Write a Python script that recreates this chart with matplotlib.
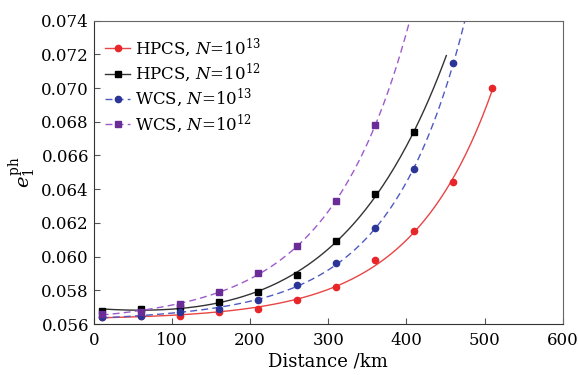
import numpy as np
import matplotlib
matplotlib.use("Agg")
import matplotlib.pyplot as plt

plt.rcParams['font.family'] = ['DejaVu Serif']
plt.rcParams['mathtext.fontset'] = 'dejavuserif'

# Data
dist = [10, 60, 110, 160, 210, 260, 310, 360, 410, 460, 510]
hpcs_13 = [0.0564, 0.0565, 0.0565, 0.0567, 0.0569, 0.0574, 0.0582, 0.0598, 0.0615, 0.0644, 0.0700]
hpcs_12 = [0.0568, 0.0569, 0.0570, 0.0573, 0.0579, 0.0589, 0.0609, 0.0637, 0.0674]
wcs_13 = [0.0564, 0.0565, 0.0567, 0.0569, 0.0574, 0.0583, 0.0596, 0.0617, 0.0652, 0.0715]
wcs_12 = [0.0566, 0.0567, 0.0572, 0.0579, 0.0590, 0.0606, 0.0633, 0.0678]

# fitted-curve end distances
curve_end = {'hpcs_13': 510, 'hpcs_12': 451, 'wcs_13': 490, 'wcs_12': 420}

labels = [r'HPCS, $N$=10$^{13}$', r'HPCS, $N$=10$^{12}$',
          r'WCS, $N$=10$^{13}$', r'WCS, $N$=10$^{12}$']

series = [
    ('hpcs_13', hpcs_13, '#e8262a', '#e84545', '-', 'o'),
    ('hpcs_12', hpcs_12, '#000000', '#333333', '-', 's'),
    ('wcs_13', wcs_13, '#2b3597', '#4f5ac4', (0, (5, 3)), 'o'),
    ('wcs_12', wcs_12, '#6a2c96', '#9d5ccc', (0, (5, 3)), 's'),
]


def exp_fit(x, y):
    best = None
    for c in np.linspace(0.002, 0.03, 2000):
        A = np.column_stack([np.ones_like(x), np.exp(c * x), x])
        coef, *_ = np.linalg.lstsq(A, y, rcond=None)
        r = np.sum((A @ coef - y) ** 2)
        if best is None or r < best[0]:
            best = (r, c, coef)
    _, c, coef = best
    return lambda t: coef[0] + coef[1] * np.exp(c * t) + coef[2] * t


fig = plt.figure(figsize=(5.79, 3.75), dpi=100)
ax = fig.add_axes([0.162, 0.136, 0.810, 0.809])

for (key, vals, mc, lc, ls, mk), lab in zip(series, labels):
    x = np.array(dist[:len(vals)], dtype=float)
    y = np.array(vals)
    f = exp_fit(x, y)
    xs = np.linspace(x[0], curve_end[key], 300)
    ax.plot(xs, f(xs), color=lc, ls=ls, lw=1.0)
    ax.plot(x, y, ls='none', marker=mk, color=mc, ms=4.5)
    ax.plot([], [], color=lc, ls=ls, lw=1.0, marker=mk, mfc=mc, mec=mc, ms=4.5, label=lab)

ax.set_xlim(0, 600)
ax.set_ylim(0.056, 0.074)
ax.set_xticks([0, 100, 200, 300, 400, 500, 600])
ax.set_yticks(np.arange(0.056, 0.0741, 0.002))
ax.yaxis.set_major_formatter(matplotlib.ticker.FormatStrFormatter('%.3f'))
ax.tick_params(direction='in', length=4, labelsize=12, color='#555555')
ax.tick_params(axis='x', pad=6)
for s in ['top', 'right']:
    ax.spines[s].set_color('#666666')
for s in ['left', 'bottom']:
    ax.spines[s].set_color('#333333')

ax.set_xlabel('Distance /km', fontsize=13, labelpad=2)
ax.set_ylabel(r'$e_1^{\mathrm{ph}}$', fontsize=14, labelpad=2)

ax.legend(loc='upper left', bbox_to_anchor=(0.0, 0.985), frameon=False, fontsize=12,
          handlelength=1.5, handletextpad=0.3, labelspacing=0.15, borderaxespad=0.3)

fig.savefig('out.png', dpi=100)
